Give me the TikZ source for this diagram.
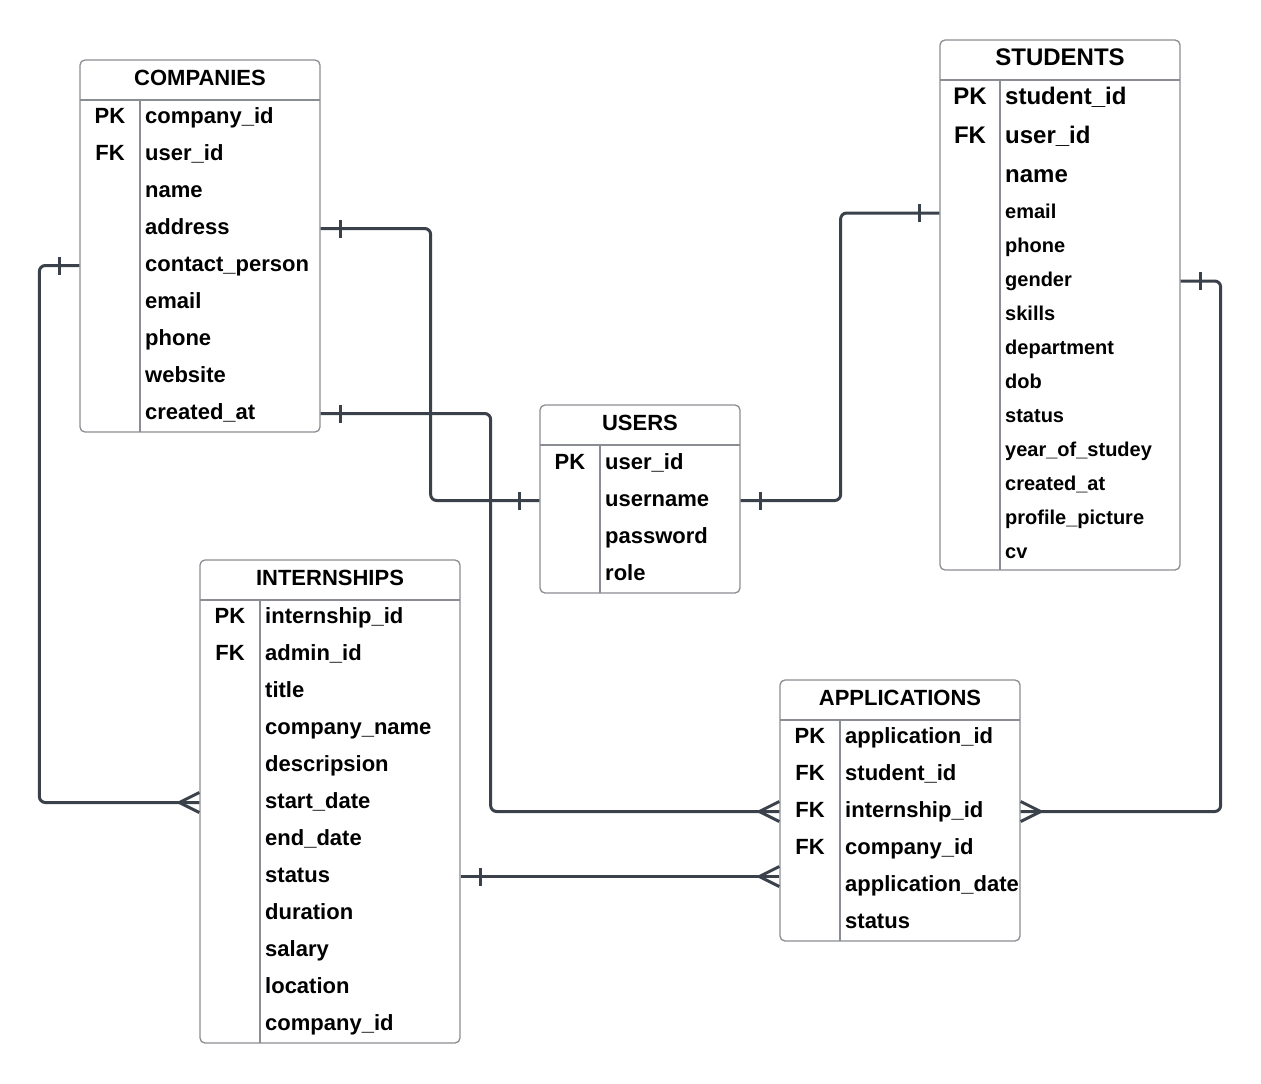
\documentclass[tikz,border=0pt]{standalone}
\usepackage{fontspec}
\setmainfont{Liberation Sans}
\definecolor{linkgray}{HTML}{3B414B}
\definecolor{boxgray}{HTML}{8A8D91}
\tikzset{
  tbl/.style={draw=boxgray, line width=1.3pt, rounded corners=5pt, fill=white, inner sep=0pt},
  tblline/.style={draw=boxgray, line width=1.3pt},
  link/.style={draw=linkgray, line width=3pt, rounded corners=6pt},
  endmk/.style={draw=linkgray, line width=3pt},
  ttl/.style={anchor=base, inner sep=0pt, font=\bfseries\fontsize{22}{26}\selectfont},
  fld/.style={anchor=base west, inner sep=0pt, text height=16pt, text depth=5pt, font=\bfseries\fontsize{22}{26}\selectfont},
  keyfld/.style={fld, anchor=base},
  bigfont/.style={font=\bfseries\fontsize{24}{28}\selectfont, text height=17.5pt, text depth=5.5pt},
  smallfont/.style={font=\bfseries\fontsize{20}{24}\selectfont, text height=14.5pt, text depth=4.5pt}
}
\begin{document}
\begin{tikzpicture}[x=1pt, y=-1pt]
 \useasboundingbox (0,0) rectangle (1261,1084);

 \node[tbl, minimum width=240pt, minimum height=372pt] (companies) at (200,246) {};
 \draw[tblline] (80,100) -- (320,100) (140,100) -- (140,432);
 \node[ttl] (companies-title) at (200,85) {COMPANIES};
 \foreach \k/\f [count=\i] in {PK/company\_id, FK/user\_id, /name, /address, /contact\_person, /email, /phone, /website, /created\_at} {
   \node[keyfld] (companies-k\i) at (110,86+37*\i) {\k};
   \node[fld] (companies-\i) at (145,86+37*\i) {\f};
 }

 \node[tbl, minimum width=240pt, minimum height=530pt] (students) at (1060,305) {};
 \draw[tblline] (940,80) -- (1180,80) (1000,80) -- (1000,570);
 \node[ttl, font=\bfseries\fontsize{24}{28}\selectfont] (students-title) at (1060,65) {STUDENTS};
 \foreach \k/\f [count=\i] in {PK/student\_id, FK/user\_id, /name} {
   \node[keyfld, bigfont] (students-k\i) at (970,65+39*\i) {\k};
   \node[fld, bigfont] (students-\i) at (1005,65+39*\i) {\f};
 }
 \foreach \f [count=\i from 4] in {email, phone, gender, skills, department, dob, status, year\_of\_studey, created\_at, profile\_picture, cv} {
   \node[fld, smallfont] (students-\i) at (1005,82+34*\i) {\f};
 }

 \node[tbl, minimum width=200pt, minimum height=188pt] (users) at (640,499) {};
 \draw[tblline] (540,445) -- (740,445) (600,445) -- (600,593);
 \node[ttl] (users-title) at (640,430) {USERS};
 \foreach \k/\f [count=\i] in {PK/user\_id, /username, /password, /role} {
   \node[keyfld] (users-k\i) at (570,432+37*\i) {\k};
   \node[fld] (users-\i) at (605,432+37*\i) {\f};
 }

 \node[tbl, minimum width=260pt, minimum height=483pt] (internships) at (330,801.5) {};
 \draw[tblline] (200,600) -- (460,600) (260,600) -- (260,1043);
 \node[ttl] (internships-title) at (330,585) {INTERNSHIPS};
 \foreach \k/\f [count=\i] in {PK/internship\_id, FK/admin\_id, /title, /company\_name, /descripsion, /start\_date, /end\_date, /status, /duration, /salary, /location, /company\_id} {
   \node[keyfld] (internships-k\i) at (230,586+37*\i) {\k};
   \node[fld] (internships-\i) at (265,586+37*\i) {\f};
 }

 \node[tbl, minimum width=240pt, minimum height=261pt] (applications) at (900,810.5) {};
 \draw[tblline] (780,720) -- (1020,720) (840,720) -- (840,941);
 \node[ttl] (applications-title) at (900,705) {APPLICATIONS};
 \foreach \k/\f [count=\i] in {PK/application\_id, FK/student\_id, FK/internship\_id, FK/company\_id, /application\_date, /status} {
   \node[keyfld] (applications-k\i) at (810,706+37*\i) {\k};
   \node[fld] (applications-\i) at (845,706+37*\i) {\f};
 }

 \draw[link] (companies-4 -| companies.east) -- ++(110,0) |- (users-2 -| users.west);
 \draw[endmk] (companies-4 -| companies.east) ++(20,-9) -- ++(0,18);
 \draw[endmk] (users-2 -| users.west) ++(-20,-9) -- ++(0,18);

 \draw[link] (companies-9 -| companies.east) -- ++(170,0) |- (applications-3 -| applications.west);
 \draw[endmk] (companies-9 -| companies.east) ++(20,-9) -- ++(0,18);
 \draw[endmk] (applications-3 -| applications.west) ++(0,-10) -- ++(-20,10) -- ++(20,10);

 \draw[link] (companies-5 -| companies.west) -- ++(-40,0) |- (internships-6 -| internships.west);
 \draw[endmk] (companies-5 -| companies.west) ++(-20,-9) -- ++(0,18);
 \draw[endmk] (internships-6 -| internships.west) ++(0,-10) -- ++(-20,10) -- ++(20,10);

 \draw[link] (users-2 -| users.east) -- ++(100,0) |- (students-4 -| students.west);
 \draw[endmk] (users-2 -| users.east) ++(20,-9) -- ++(0,18);
 \draw[endmk] (students-4 -| students.west) ++(-20,-9) -- ++(0,18);

 \draw[link] (students-6 -| students.east) -- ++(40,0) |- (applications-3 -| applications.east);
 \draw[endmk] (students-6 -| students.east) ++(20,-9) -- ++(0,18);
 \draw[endmk] (applications-3 -| applications.east) ++(0,-10) -- ++(20,10) -- ++(-20,10);

 \draw[link] (internships-8 -| internships.east) -- (internships-8 -| applications.west);
 \draw[endmk] (internships-8 -| internships.east) ++(20,-9) -- ++(0,18);
 \draw[endmk] (internships-8 -| applications.west) ++(0,-10) -- ++(-20,10) -- ++(20,10);
\end{tikzpicture}
\end{document}
